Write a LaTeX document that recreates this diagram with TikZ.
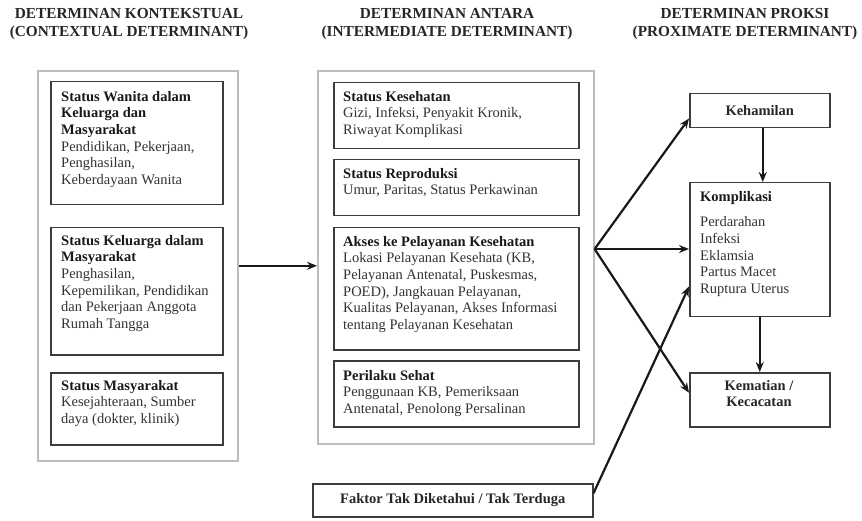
\documentclass[tikz,border=0pt]{standalone}
\usepackage{fontspec}
\setmainfont{Liberation Serif}
\usetikzlibrary{arrows.meta,calc}
\definecolor{txtgray}{HTML}{333333}
\definecolor{boxgray}{HTML}{3C3C3C}
\definecolor{outergray}{HTML}{BDBDBD}
\begin{document}
\begin{tikzpicture}[x=1pt,y=-1pt,
  outerbox/.style={draw=outergray, line width=1.6pt, anchor=north west, inner sep=0pt},
  ibox/.style={draw=boxgray, line width=1.5pt, anchor=north west, inner sep=0pt},
  body/.style={anchor=north west, inner sep=0pt, align=left, text=txtgray, font=\fontsize{14.5}{16.6}\selectfont},
  boldtxt/.style={font=\fontsize{14.5}{15.5}\selectfont\bfseries, text=black!85},
  head/.style={align=center, inner sep=0pt, font=\fontsize{15.3}{18}\selectfont\bfseries, text=black!85},
  arr/.style={-{Stealth[length=10pt,width=8pt]}, line width=2.2pt, black!90},
]
\useasboundingbox (0,0) rectangle (862,521);

% headings
\node[head] (h1) at (129,24.5) {DETERMINAN KONTEKSTUAL\\(CONTEXTUAL DETERMINANT)};
\node[head] (h2) at (447,24.5) {DETERMINAN ANTARA\\(INTERMEDIATE DETERMINANT)};
\node[head] (h3) at (745,24.5) {DETERMINAN PROKSI\\(PROXIMATE DETERMINANT)};

% outer panels
\node[outerbox, minimum width=200pt, minimum height=390pt] (lo) at (37,70) {};
\node[outerbox, minimum width=276pt, minimum height=373pt] (mo) at (317,70) {};

% left boxes
\node[ibox, minimum width=172pt, minimum height=123pt] (w1) at (50,81) {};
\node[body] (w1t) at ($(w1.north west)+(11,10)$) {{\color{black!90}\bfseries Status Wanita dalam}\\{\color{black!90}\bfseries Keluarga dan}\\{\color{black!90}\bfseries Masyarakat}\\Pendidikan, Pekerjaan,\\Penghasilan,\\Keberdayaan Wanita};
\node[ibox, minimum width=172pt, minimum height=127pt] (w2) at (50,227) {};
\node[body] (w2t) at ($(w2.north west)+(11,8)$) {{\color{black!90}\bfseries Status Keluarga dalam}\\{\color{black!90}\bfseries Masyarakat}\\Penghasilan,\\Kepemilikan, Pendidikan\\dan Pekerjaan Anggota\\Rumah Tangga};
\node[ibox, minimum width=172pt, minimum height=72pt] (w3) at (50,372) {};
\node[body] (w3t) at ($(w3.north west)+(11,8)$) {{\color{black!90}\bfseries Status Masyarakat}\\Kesejahteraan, Sumber\\daya (dokter, klinik)};

% middle boxes
\node[ibox, minimum width=245pt, minimum height=66pt] (m1) at (333,82) {};
\node[body] (m1t) at ($(m1.north west)+(10,9)$) {{\color{black!90}\bfseries Status Kesehatan}\\Gizi, Infeksi, Penyakit Kronik,\\Riwayat Komplikasi};
\node[ibox, minimum width=245pt, minimum height=56pt] (m2) at (333,159) {};
\node[body] (m2t) at ($(m2.north west)+(10,9)$) {{\color{black!90}\bfseries Status Reproduksi}\\Umur, Paritas, Status Perkawinan};
\node[ibox, minimum width=245pt, minimum height=122pt] (m3) at (333,227) {};
\node[body] (m3t) at ($(m3.north west)+(10,9)$) {{\color{black!90}\bfseries Akses ke Pelayanan Kesehatan}\\Lokasi Pelayanan Kesehata (KB,\\Pelayanan Antenatal, Puskesmas,\\POED), Jangkauan Pelayanan,\\Kualitas Pelayanan, Akses Informasi\\tentang Pelayanan Kesehatan};
\node[ibox, minimum width=245pt, minimum height=66pt] (m4) at (333,360) {};
\node[body] (m4t) at ($(m4.north west)+(10,10)$) {{\color{black!90}\bfseries Perilaku Sehat}\\Penggunaan KB, Pemeriksaan\\Antenatal, Penolong Persalinan};

% unknown factor
\node[ibox, boldtxt, minimum width=280pt, minimum height=33pt] (fak) at (312,483) {Faktor Tak Diketahui / Tak Terduga};

% right boxes
\node[ibox, boldtxt, minimum width=140pt, minimum height=34pt] (keh) at (689,93) {Kehamilan};
\node[ibox, minimum width=140pt, minimum height=134pt] (kom) at (689,182) {};
\node[body] (komt) at ($(kom.north west)+(11,9)$) {{\color{black!90}\bfseries Komplikasi}\\[9pt]Perdarahan\\Infeksi\\Eklamsia\\Partus Macet\\Ruptura Uterus};
\node[ibox, minimum width=140pt, minimum height=54pt] (kem) at (689,372) {};
\node[boldtxt, align=center, inner sep=0pt] (kemt) at (759,393.5) {Kematian /\\Kecacatan};

% connectors
\coordinate (fan) at (mo.east |- 0,249);
\draw[arr] (lo.east) -- (lo.east -| mo.west);
\draw[arr] (fan) -- ([yshift=10pt]keh.south west);
\draw[arr] (fan) -- (fan -| kom.west);
\draw[arr] (fan) -- ([yshift=7pt]kem.west);
\draw[arr] ([yshift=7pt]fak.east) -- ([yshift=31pt]kom.south west);
\draw[arr] ([xshift=3pt]keh.south) -- ([xshift=3pt]kom.north);
\draw[arr] (kom.south) -- (kem.north);
\end{tikzpicture}
\end{document}
